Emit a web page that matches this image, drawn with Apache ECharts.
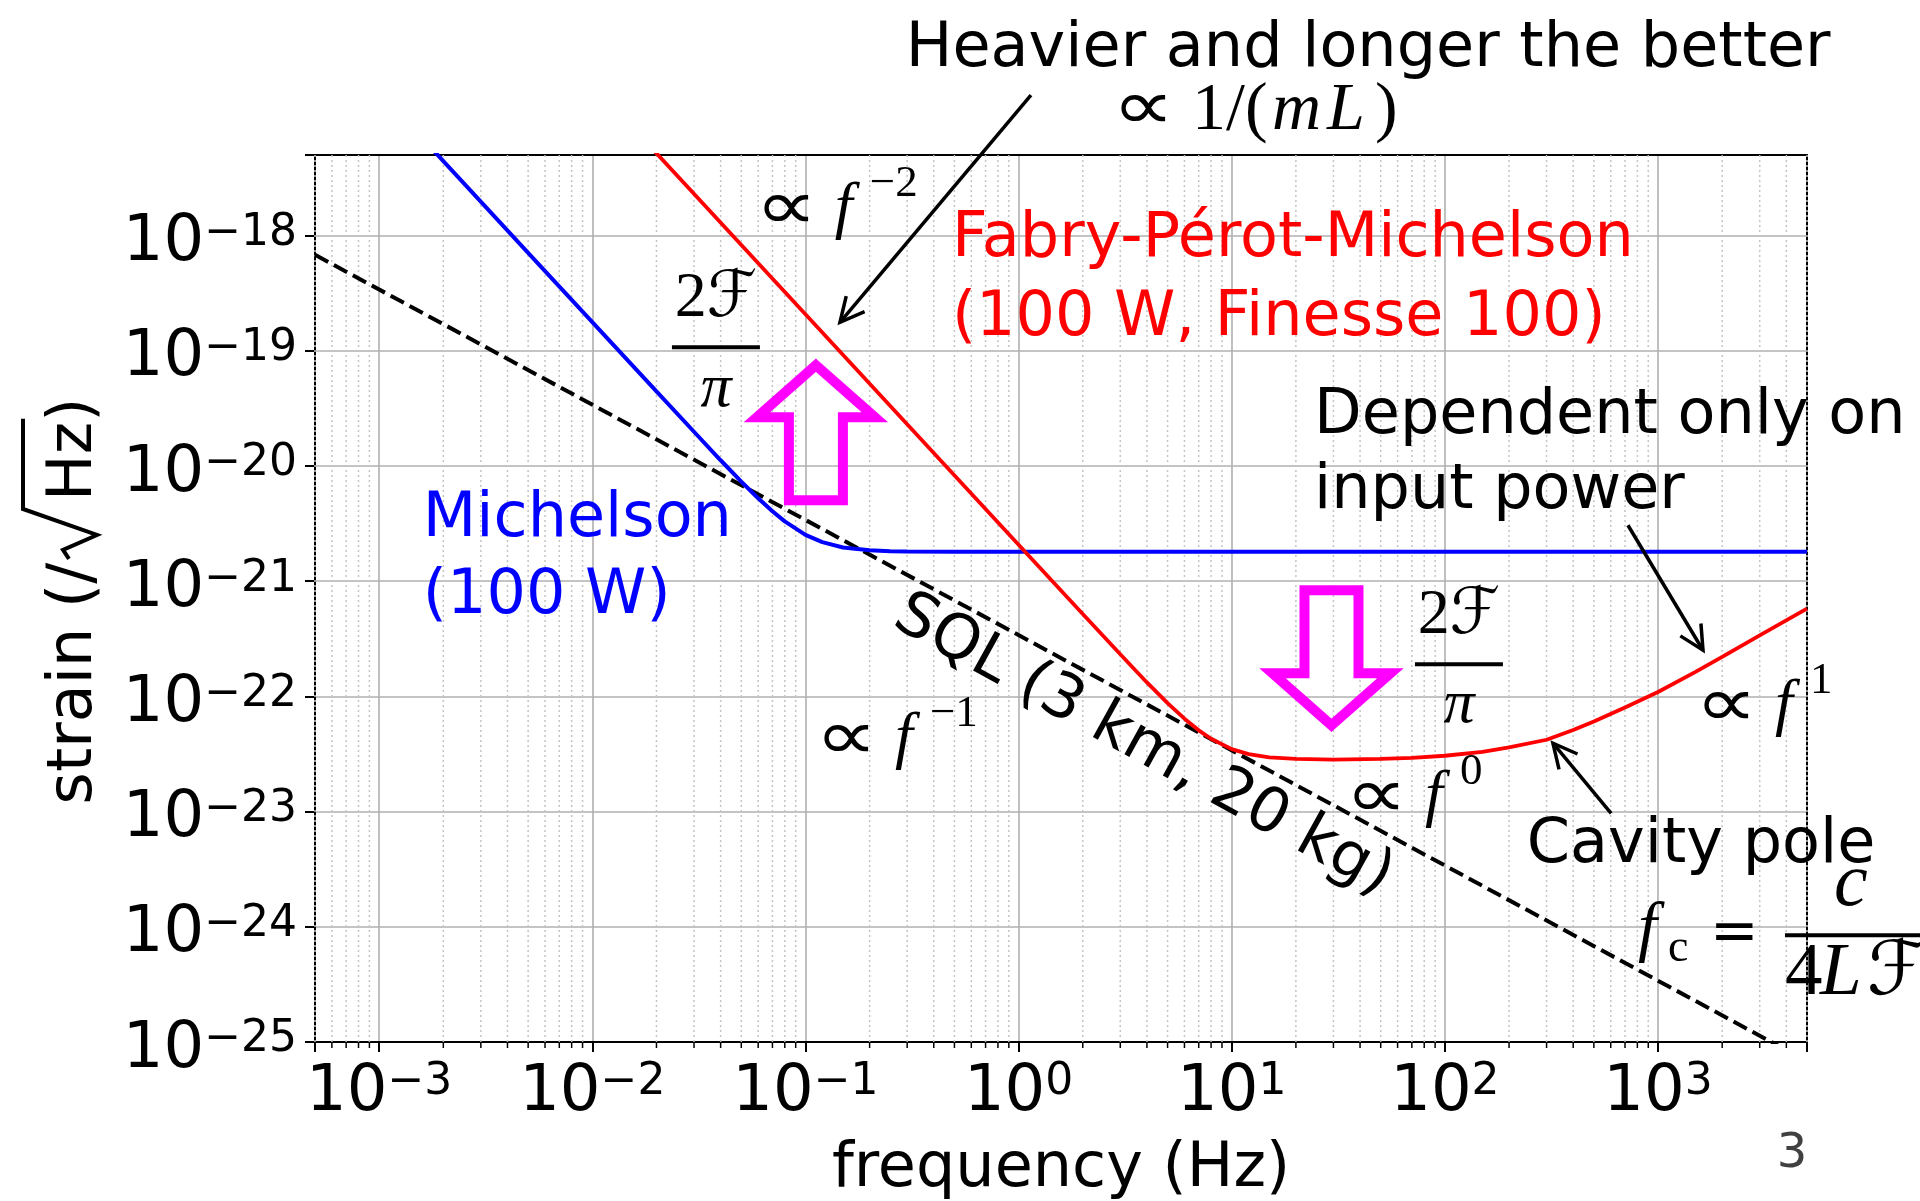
<!DOCTYPE html>
<html>
<head>
<meta charset="utf-8">
<title>strain sensitivity</title>
<script src="https://cdn.jsdelivr.net/npm/echarts@6.0.0/dist/echarts.min.js"></script>
<style>
html, body { margin: 0; padding: 0; background: #fff; }
#main { width: 1920px; height: 1201px; }
</style>
</head>
<body>
<div id="main"></div>
<script>
// values: frequency (Hz) / strain (1/sqrt(Hz))
var freqMich = [0.001, 0.002, 0.005, 0.01, 0.02, 0.03, 0.04, 0.05, 0.06, 0.07, 0.08, 0.1, 0.12, 0.15, 0.2, 0.25, 0.3, 0.5, 1, 10, 100, 1000, 5000];
var strainMich = [1.77e-17, 4.43e-18, 7.08e-19, 1.77e-19, 4.43e-20, 1.98e-20, 1.12e-20, 7.31e-21, 5.24e-21, 4.04e-21, 3.30e-21, 2.52e-21, 2.18e-21, 1.96e-21, 1.85e-21, 1.82e-21, 1.81e-21, 1.80e-21, 1.80e-21, 1.80e-21, 1.80e-21, 1.80e-21, 1.80e-21];

var freqFpm = [0.01, 0.1, 1, 2, 3, 4, 5, 6, 7, 8, 10, 12, 15, 20, 30, 50, 70, 100, 150, 200, 300, 400, 500, 700, 1000, 1500, 2000, 3000, 5000];
var strainFpm = [2.07e-17, 2.07e-19, 2.07e-21, 5.18e-22, 2.32e-22, 1.32e-22, 8.74e-23, 6.40e-23, 5.07e-23, 4.28e-23, 3.48e-23, 3.15e-23, 2.95e-23, 2.86e-23, 2.82e-23, 2.86e-23, 2.92e-23, 3.05e-23, 3.30e-23, 3.60e-23, 4.20e-23, 5.10e-23, 6.05e-23, 8.00e-23, 1.09e-22, 1.63e-22, 2.20e-22, 3.38e-22, 5.77e-22];

var freqSql = [5e-4, 5e3];
var strainSql = [6.8e-19, 6.8e-26];

// axes (y min a hair under 1e-25 so the 10^-25 tick is a regular labelled tick)
var xMin = 5e-4, xMax = 5e3, yMin = 0.999e-25, yMax = 5e-18;
var minorDecades = [-4, -3, -2, -1, 0, 1, 2, 3];
var minorMult = [2, 3, 4, 5, 6, 7, 8, 9];

var sans = "'DejaVu Sans', sans-serif";
var serif = "'Liberation Serif', 'DejaVu Serif', 'DejaVu Sans', serif";

function pairs(xs, ys) {
    var out = [];
    for (var i = 0; i < xs.length; i++) out.push([xs[i], ys[i]]);
    return out;
}

var minorX = [];
for (var i = 0; i < minorDecades.length; i++) {
    for (var j = 0; j < minorMult.length; j++) {
        var v = minorMult[j] * Math.pow(10, minorDecades[i]);
        if (v >= xMin * 0.999 && v <= xMax * 1.001) minorX.push([v, 1e-25]);
    }
}

function powLabel(val) {
    var e = Math.log10(val);
    var r = Math.round(e);
    if (Math.abs(e - r) > 1e-6) return '';
    return '{b|10}{s|' + (r < 0 ? '\u2212' + (-r) : r) + '}';
}

var tickRich = {
    b: { fontFamily: sans, fontSize: 64, lineHeight: 64, color: '#000' },
    s: { fontFamily: sans, fontSize: 44, lineHeight: 30, verticalAlign: 'top', color: '#000' }
};

// dotted minor grid + small ticks on the frequency axis
function renderMinor(params, api) {
    var v = api.value(0);
    var top = api.coord([v, yMax]);
    var bot = api.coord([v, yMin]);
    return {
        type: 'group',
        children: [
            { type: 'line', shape: { x1: bot[0], y1: top[1], x2: bot[0], y2: bot[1] },
              style: { stroke: '#c4c4c4', lineWidth: 1.5, lineDash: [2, 3] } },
            { type: 'line', shape: { x1: bot[0], y1: bot[1], x2: bot[0], y2: bot[1] + 6 },
              style: { stroke: '#000', lineWidth: 1.5 } }
        ]
    };
}

var frameAxis = {
    axisLine: { show: true, onZero: false, lineStyle: { color: '#000', width: 2 } },
    axisTick: { show: false }, axisLabel: { show: false }, splitLine: { show: false }
};

option = {
    backgroundColor: '#fff',
    animation: false,
    grid: { left: 315, right: 113, top: 155, bottom: 159, containLabel: false, outerBoundsMode: 'none' },
    xAxis: [{
        type: 'log', logBase: 10, min: xMin, max: xMax,
        name: 'frequency (Hz)', nameLocation: 'middle', nameGap: 97,
        nameTextStyle: { fontFamily: sans, fontSize: 62, lineHeight: 62, color: '#000' },
        axisLine: { show: true, onZero: false, lineStyle: { color: '#000', width: 2 } },
        axisTick: { show: true, length: 10, lineStyle: { color: '#000', width: 2 } },
        axisLabel: { margin: 19, formatter: powLabel, rich: tickRich },
        splitLine: { show: true, lineStyle: { color: '#b0b0b0', width: 1.6 } }
    }, Object.assign({ type: 'log', logBase: 10, min: xMin, max: xMax, position: 'top' }, frameAxis)],
    yAxis: [{
        type: 'log', logBase: 10, min: yMin, max: yMax,
        axisLine: { show: true, onZero: false, lineStyle: { color: '#000', width: 2 } },
        axisTick: { show: true, length: 10, lineStyle: { color: '#000', width: 2 } },
        axisLabel: { margin: 18, formatter: powLabel, rich: tickRich, padding: [16, 0, 0, 0] },
        splitLine: { show: true, lineStyle: { color: '#b0b0b0', width: 1.6 } }
    }, Object.assign({ type: 'log', logBase: 10, min: yMin, max: yMax, position: 'right' }, frameAxis)],
    series: [
        {
            type: 'custom', name: 'minor', renderItem: renderMinor, data: minorX,
            z: 1, silent: true, clip: false
        },
        {
            type: 'line', name: 'SQL (3 km, 20 kg)', data: pairs(freqSql, strainSql),
            symbol: 'none', z: 3, clip: true,
            lineStyle: { color: '#000', width: 4, type: [15, 6.5] }
        },
        {
            type: 'line', name: 'Michelson (100 W)', data: pairs(freqMich, strainMich),
            symbol: 'none', z: 4, clip: true,
            lineStyle: { color: '#0000ff', width: 4 }
        },
        {
            type: 'line', name: 'Fabry-Perot-Michelson', data: pairs(freqFpm, strainFpm),
            symbol: 'none', z: 5, clip: true,
            lineStyle: { color: '#ff0000', width: 3.8 }
        }
    ]
};

var chart = echarts.init(document.getElementById('main'));
chart.setOption(option);

// ---- annotations, anchored in decades (log10 f, log10 h) ----
function pt(lx, ly) {
    return chart.convertToPixel({ seriesIndex: 1 }, [Math.pow(10, lx), Math.pow(10, ly)]);
}

function T(x, y, text, s) {
    var st = { text: text, fill: '#000', fontFamily: sans, fontSize: 62,
               align: 'left', verticalAlign: 'middle', textAlign: 'left', textVerticalAlign: 'middle' };
    for (var k in s) st[k] = s[k];
    st.textAlign = st.align;
    st.textVerticalAlign = st.verticalAlign;
    return { type: 'text', x: x, y: y, z: 100, silent: true, style: st };
}

// the proportional sign, light and stretched like the TeX one
function prop(x, y) {
    var el = T(x - 8, y, '\u221d', { fontFamily: sans, fontSize: 70, fontWeight: 200 });
    el.scaleX = 1.25;
    return el;
}

function L(x1, y1, x2, y2, w) {
    return { type: 'line', z: 100, silent: true, shape: { x1: x1, y1: y1, x2: x2, y2: y2 },
             style: { stroke: '#000', lineWidth: w || 4 } };
}

function group(p, children, rot) {
    return { type: 'group', x: p[0], y: p[1], rotation: rot || 0, children: children };
}

function arrow(a, b) {
    var dx = b[0] - a[0], dy = b[1] - a[1];
    var len = Math.sqrt(dx * dx + dy * dy), ux = dx / len, uy = dy / len;
    var hl = 24, hw = 12;
    var h1 = [b[0] - ux * hl - uy * hw, b[1] - uy * hl + ux * hw];
    var h2 = [b[0] - ux * hl + uy * hw, b[1] - uy * hl - ux * hw];
    return { type: 'group', children: [
        L(a[0], a[1], b[0], b[1], 3.5),
        { type: 'polyline', z: 100, silent: true, shape: { points: [h1, b, h2] },
          style: { stroke: '#000', lineWidth: 3.5, fill: 'none' } }
    ] };
}

function blockArrow(p, dir) {
    var shape = [[0, 0], [59, 52], [27, 52], [27, 135], [-27, 135], [-27, 52], [-59, 52]];
    var pts = shape.map(function (q) { return [p[0] + q[0], p[1] + dir * q[1]]; });
    return { type: 'polygon', z: 100, silent: true, shape: { points: pts },
             style: { fill: 'none', stroke: '#ff00ff', lineWidth: 10, lineJoin: 'miter', miterLimit: 10 } };
}

function propTo(p, exp) {
    return group(p, [
        prop(0, 0),
        T(72, -2, 'f', { fontFamily: serif, fontSize: 64, fontStyle: 'italic' }),
        T(107, -27, exp, { fontFamily: serif, fontSize: 45 })
    ]);
}

function frac(p) {
    return group(p, [
        T(0, -48, '2\u2131', { fontFamily: serif, fontSize: 64, align: 'center' }),
        L(-44, 0, 44, 0, 4),
        T(0, 42, '\u03c0', { fontFamily: serif, fontSize: 62, fontStyle: 'italic', align: 'center' })
    ]);
}

function poleFormula(p) {
    return group(p, [
        T(0, -4, 'f', { fontFamily: serif, fontSize: 68, fontStyle: 'italic' }),
        T(30, 14, 'c', { fontFamily: serif, fontSize: 46 }),
        T(72, 0, '=', { fontFamily: sans, fontSize: 58 }),
        L(147, 0, 290, 0, 4),
        T(213, -50, 'c', { fontFamily: serif, fontSize: 76, fontStyle: 'italic', align: 'center' }),
        T(147, 39, '4', { fontFamily: serif, fontSize: 75 }),
        T(182, 39, 'L', { fontFamily: serif, fontSize: 75, fontStyle: 'italic' }),
        T(229, 39, '\u2131', { fontFamily: serif, fontSize: 75 })
    ]);
}

function massLaw(p) {
    return group(p, [
        prop(0, 0),
        T(72, 0, '1/(', { fontFamily: serif, fontSize: 68 }),
        T(152, 0, 'm', { fontFamily: serif, fontSize: 68, fontStyle: 'italic' }),
        T(207, 0, 'L', { fontFamily: serif, fontSize: 68, fontStyle: 'italic' }),
        T(255, 0, ')', { fontFamily: serif, fontSize: 68 })
    ]);
}

function strainName() {
    var ctx = document.createElement('canvas').getContext('2d');
    ctx.font = "62px 'DejaVu Sans'";
    var w1 = ctx.measureText('strain (/').width;
    var wHz = ctx.measureText('Hz').width;
    var wEnd = ctx.measureText('Hz)').width;
    var rx = w1 + 4, hx = rx + 58, total = hx + wEnd;
    return group([93, 601 + total / 2], [
        T(0, -18, 'strain (/', {}),
        { type: 'polyline', z: 100, silent: true,
          shape: { points: [[rx, -24], [rx + 9, -30], [rx + 24, 4], [rx + 50, -70], [hx + wHz + 3, -70]] },
          style: { stroke: '#000', lineWidth: 4, fill: 'none', lineJoin: 'miter' } },
        T(hx, -18, 'Hz)', {})
    ], Math.PI / 2);
}

function at(lx, ly, text, s) {
    var p = pt(lx, ly);
    return T(p[0], p[1], text, s || {});
}

var notes = [
    at(-0.529, -16.391, 'Heavier and longer the better'),
    massLaw(pt(0.476, -16.921)),
    arrow(pt(0.058, -16.782), pt(-0.838, -18.753)),
    propTo(pt(-1.200, -17.789), '\u22122'),
    at(-0.313, -18.384, 'Fabry-P\u00e9rot-Michelson\n(100 W, Finesse 100)', { fill: '#ff0000', lineHeight: 79 }),
    frac(pt(-1.420, -18.970)),
    blockArrow(pt(-0.951, -19.126), 1),
    at(-2.795, -20.806, 'Michelson\n(100 W)', { fill: '#0000ff', lineHeight: 77 }),
    at(1.386, -19.898, 'Dependent only on\ninput power', { lineHeight: 75 }),
    arrow(pt(2.859, -20.515), pt(3.211, -21.600)),
    blockArrow(pt(1.468, -22.251), -1),
    frac(pt(2.066, -21.721)),
    propTo(pt(3.211, -22.103), '1'),
    propTo(pt(1.569, -22.893), '0'),
    propTo(pt(-0.918, -22.390), '\u22121'),
    group(pt(0.584, -22.433), [T(0, 0, 'SQL (3 km, 20 kg)', { align: 'center' })], -0.506),
    at(2.384, -23.301, 'Cavity pole'),
    arrow(pt(2.780, -23.015), pt(2.507, -22.407)),
    poleFormula(pt(2.906, -24.074)),
    strainName(),
    T(1792, 1155, '3', { fill: '#404040', fontSize: 48, align: 'center' })
];

chart.setOption({ graphic: notes });
</script>
</body>
</html>
